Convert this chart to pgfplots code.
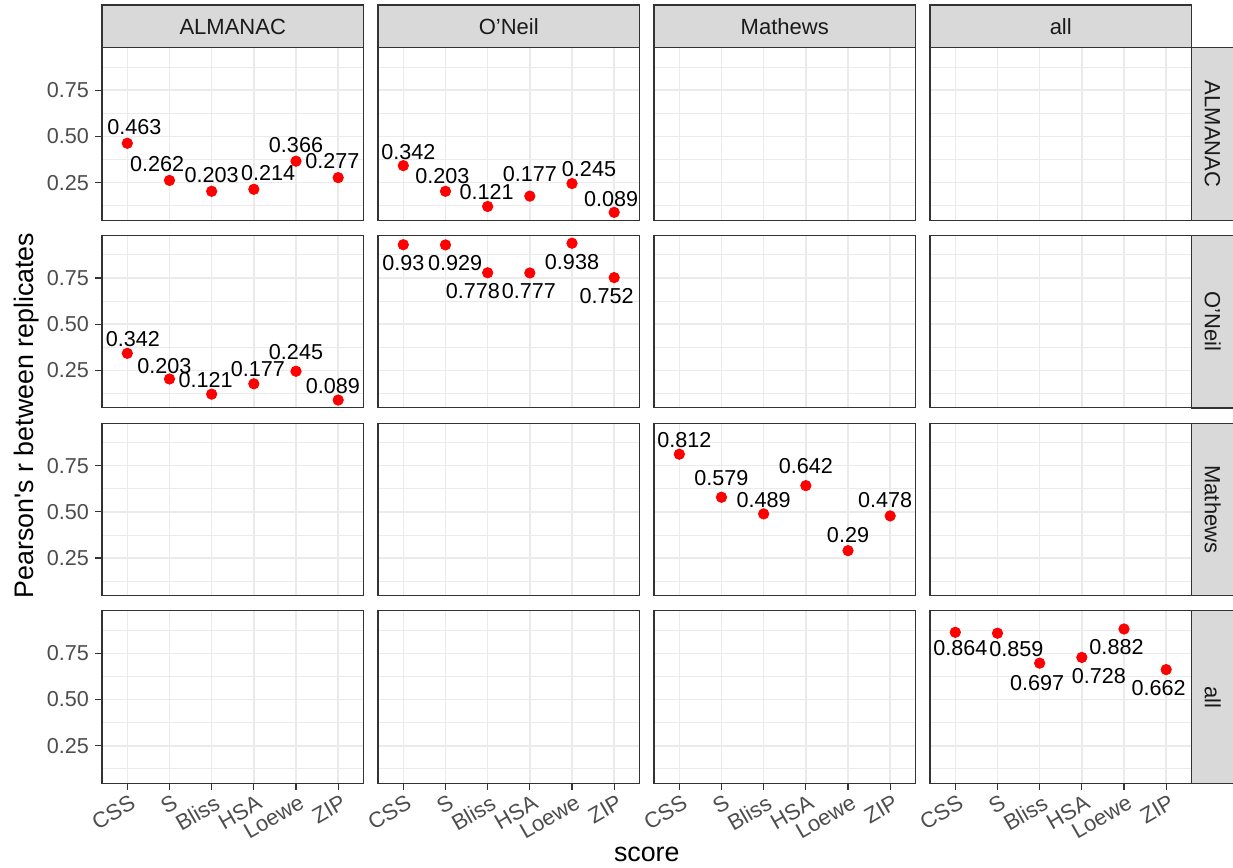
\documentclass[border=0pt]{standalone}
\usepackage{fontspec}
\setmainfont{Liberation Sans}
\usepackage{pgfplots}
\pgfplotsset{compat=1.18}
\definecolor{g92}{HTML}{EBEBEB}
\definecolor{g85}{HTML}{D9D9D9}
\definecolor{g20}{HTML}{333333}
\definecolor{g30}{HTML}{4D4D4D}
\definecolor{g10}{HTML}{1A1A1A}
\newcommand{\fs}{\fontsize{10.8}{12}\selectfont}
\newcommand{\lb}[4]{\node[lbl, xshift=#3*0.5pt, yshift=#4*0.5pt] at (axis cs:#1) {#2};}
\tikzset{lbl/.style={inner sep=0pt, anchor=center, font=\fs, text=black}}
\pgfplotsset{
  panel/.style={anchor=north west, scale only axis, width=130.75pt, height=86.25pt,
    xmin=0.4, xmax=6.6, ymin=0.0466, ymax=0.9804,
    xtick={1,2,3,4,5,6}, ytick={0.25,0.5,0.75}, minor ytick={0.125,0.375,0.625,0.875},
    xmajorgrids, ymajorgrids, yminorgrids,
    major grid style={draw=g92, line width=0.8pt},
    minor grid style={draw=g92, line width=0.4pt},
    axis line style={draw=g20, line width=0.6pt},
    xtick pos=bottom, ytick pos=left, tick align=outside,
    major tick length=3.5pt, minor tick length=0pt,
    tick style={draw=g20, line width=0.6pt},
    xticklabels={}, yticklabels={},
    clip=false},
  noxt/.style={xmajorticks=false},
  noyt/.style={ymajorticks=false},
  ylab/.style={yticklabels={0.25,0.50,0.75},
    yticklabel style={font=\fs, text=g30, inner sep=0pt, xshift=-2.85pt}},
  xlab/.style={xticklabels={CSS,S,Bliss,HSA,Loewe,ZIP},
    xticklabel style={font=\fontsize{11}{12}\selectfont, text=g30, inner sep=0pt, rotate=30, anchor=north east, yshift=-2pt}},
  pts/.style={only marks, mark=*, mark size=2.6pt, color=red},
}
\begin{document}
\begin{tikzpicture}
\useasboundingbox (0,0) rectangle (616.5pt,-434pt);
% row 1
\begin{axis}[panel, ylab, noxt, at={(51pt,-23.85pt)}]
\addplot[pts] coordinates {(1,0.463) (2,0.262) (3,0.203) (4,0.214) (5,0.366) (6,0.277)};
\lb{1,0.463}{0.463}{7}{16.5}
\lb{2,0.262}{0.262}{-12.3}{16.5}
\lb{3,0.203}{0.203}{0}{16.2}
\lb{4,0.214}{0.214}{14.3}{16}
\lb{5,0.366}{0.366}{0}{16.5}
\lb{6,0.277}{0.277}{-5.7}{16.7}
\end{axis}
\begin{axis}[panel, noxt, noyt, at={(189pt,-23.85pt)}]
\addplot[pts] coordinates {(1,0.342) (2,0.203) (3,0.121) (4,0.177) (5,0.245) (6,0.089)};
\lb{1,0.342}{0.342}{5}{13.3}
\lb{2,0.203}{0.203}{-3}{15}
\lb{3,0.121}{0.121}{-1}{14}
\lb{4,0.177}{0.177}{0}{21.7}
\lb{5,0.245}{0.245}{17}{14}
\lb{6,0.089}{0.089}{-3}{13.5}
\end{axis}
\begin{axis}[panel, noxt, noyt, at={(327pt,-23.85pt)}]
\end{axis}
\begin{axis}[panel, noxt, noyt, at={(465pt,-23.85pt)}]
\end{axis}
% row 2
\begin{axis}[panel, ylab, noxt, at={(51pt,-117.7pt)}]
\addplot[pts] coordinates {(1,0.342) (2,0.203) (3,0.121) (4,0.177) (5,0.245) (6,0.089)};
\lb{1,0.342}{0.342}{5.5}{13.8}
\lb{2,0.203}{0.203}{-5}{13.3}
\lb{3,0.121}{0.121}{-6}{13.7}
\lb{4,0.177}{0.177}{4}{14.7}
\lb{5,0.245}{0.245}{0}{19}
\lb{6,0.089}{0.089}{-5.3}{14}
\end{axis}
\begin{axis}[panel, noxt, noyt, at={(189pt,-117.7pt)}]
\addplot[pts] coordinates {(1,0.93) (2,0.929) (3,0.778) (4,0.777) (5,0.938) (6,0.752)};
\lb{1,0.93}{0.93}{0}{-18}
\lb{2,0.929}{0.929}{9.7}{-18}
\lb{3,0.778}{0.778}{-14.8}{-18.5}
\lb{4,0.777}{0.777}{-1}{-18}
\lb{5,0.938}{0.938}{0}{-18.5}
\lb{6,0.752}{0.752}{-7.5}{-18}
\end{axis}
\begin{axis}[panel, noxt, noyt, at={(327pt,-117.7pt)}]
\end{axis}
\begin{axis}[panel, noxt, noyt, at={(465pt,-117.7pt)}]
\end{axis}
% row 3
\begin{axis}[panel, ylab, noxt, at={(51pt,-211.55pt)}]
\end{axis}
\begin{axis}[panel, noxt, noyt, at={(189pt,-211.55pt)}]
\end{axis}
\begin{axis}[panel, noxt, noyt, at={(327pt,-211.55pt)}]
\addplot[pts] coordinates {(1,0.812) (2,0.579) (3,0.489) (4,0.642) (5,0.29) (6,0.478)};
\lb{1,0.812}{0.812}{5}{14.2}
\lb{2,0.579}{0.579}{0}{19}
\lb{3,0.489}{0.489}{0}{13.5}
\lb{4,0.642}{0.642}{0}{19.5}
\lb{5,0.29}{0.29}{0}{16}
\lb{6,0.478}{0.478}{-5}{15.5}
\end{axis}
\begin{axis}[panel, noxt, noyt, at={(465pt,-211.55pt)}]
\end{axis}
% row 4
\begin{axis}[panel, ylab, xlab, at={(51pt,-305.4pt)}]
\end{axis}
\begin{axis}[panel, xlab, noyt, at={(189pt,-305.4pt)}]
\end{axis}
\begin{axis}[panel, xlab, noyt, at={(327pt,-305.4pt)}]
\end{axis}
\begin{axis}[panel, xlab, noyt, at={(465pt,-305.4pt)}]
\addplot[pts] coordinates {(1,0.864) (2,0.859) (3,0.697) (4,0.728) (5,0.882) (6,0.662)};
\lb{1,0.864}{0.864}{5}{-16}
\lb{2,0.859}{0.859}{19}{-15.5}
\lb{3,0.697}{0.697}{-2.5}{-20.3}
\lb{4,0.728}{0.728}{17}{-18.5}
\lb{5,0.882}{0.882}{-7.5}{-18.3}
\lb{6,0.662}{0.662}{-7.5}{-18.7}
\end{axis}
% column strips
\foreach \xl/\lab in {51/ALMANAC,189/O’Neil,327/Mathews,465/all}{
  \draw[fill=g85, draw=g20, line width=0.6pt] ({\xl*1pt},-2.5pt) rectangle ({(\xl+130.75)*1pt},-23.85pt);
  \node[anchor=base, inner sep=0pt, font=\fontsize{11}{13}\selectfont, text=g10] at ({(\xl+65.375)*1pt},-17.1pt) {\lab};
}
% row strips
\foreach \yt/\lab in {-23.85/ALMANAC,-117.7/O’Neil,-211.55/Mathews,-305.4/all}{
  \draw[fill=g85, draw=g20, line width=0.6pt] (595.75pt,{\yt*1pt}) rectangle (618pt,{(\yt-86.25)*1pt});
  \node[anchor=base, rotate=-90, inner sep=0pt, font=\fontsize{11}{13}\selectfont, text=g10] at (602.4pt,{(\yt-43.125)*1pt}) {\lab};
}
% axis titles
\node[anchor=base, rotate=90, inner sep=0pt, font=\fontsize{13.4}{15}\selectfont] at (16.5pt,-207.75pt) {Pearson\textquotesingle s r between replicates};
\node[anchor=base, inner sep=0pt, font=\fontsize{13.4}{15}\selectfont] at (323.4pt,-430.8pt) {score};
\end{tikzpicture}
\end{document}
